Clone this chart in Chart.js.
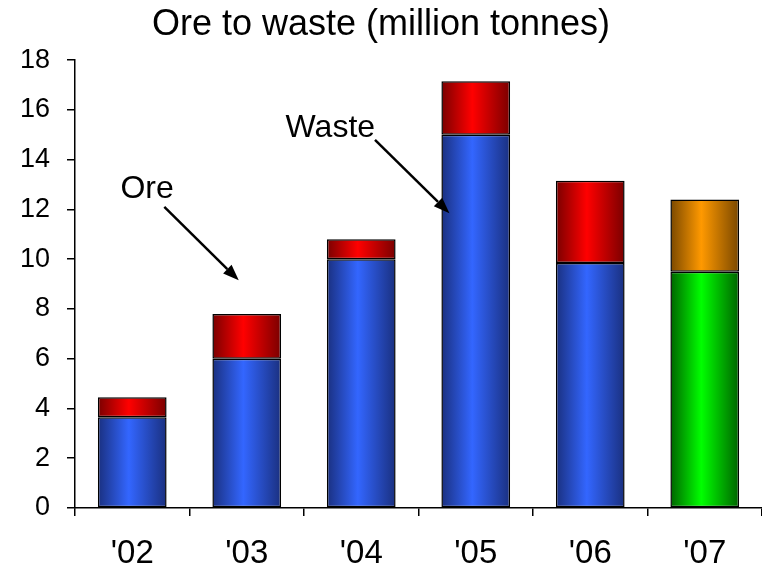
<!DOCTYPE html>
<html>
<head>
<meta charset="utf-8">
<script src="https://cdn.jsdelivr.net/npm/chart.js"></script>
<style>
  html, body { margin: 0; padding: 0; background: #fff; }
  #wrap { width: 762px; height: 571px; position: relative; }
</style>
</head>
<body>
<div id="wrap"><canvas id="oreChart"></canvas></div>
<script>
// data
const years = ["'02", "'03", "'04", "'05", "'06", "'07"];
const waste = [3.65, 6.0, 10.0, 15.0, 9.85, 9.5];
const ore = [0.8, 1.8, 0.8, 2.15, 3.3, 2.9];
const yTicks = [0, 2, 4, 6, 8, 10, 12, 14, 16, 18];

// annotation positions in data units (category index, value)
const notes = [
  { text: 'Ore', at: [0.13, 12.8], from: [0.28, 12.1], to: [0.93, 9.15] },
  { text: 'Waste', at: [1.73, 15.25], from: [2.12, 14.8], to: [2.77, 11.85] }
];

const FONT = "'Liberation Sans', Arial, sans-serif";
Chart.defaults.font.family = FONT;
Chart.defaults.color = '#000';

// [edge, centre] colours; the last year is drawn in other colours
const wastePal = [['#1a3080', '#3366ff'], ['#006400', '#00ff00']];
const orePal = [['#7a0000', '#ff0000'], ['#7a4800', '#ff9900']];

function shade(pal) {
  return function (c) {
    const chart = c.chart;
    const p = pal[c.dataIndex === 5 ? 1 : 0];
    const xs = chart.scales.x;
    if (!chart.chartArea || !xs) return p[1];
    const cx = xs.getPixelForValue(c.dataIndex);
    const w = (xs.width / years.length) * 0.6;
    const g = chart.ctx.createLinearGradient(cx - w / 2, 0, cx + w / 2, 0);
    g.addColorStop(0, p[0]);
    g.addColorStop(0.45, p[1]);
    g.addColorStop(1, p[0]);
    return g;
  };
}

const arrows = {
  id: 'arrows',
  afterDatasetsDraw(chart) {
    const { ctx, scales: { x, y } } = chart;
    const px = v => x.getPixelForValue(v[0]);
    const py = v => y.getPixelForValue(v[1]);
    ctx.save();
    ctx.fillStyle = '#000';
    ctx.strokeStyle = '#000';
    ctx.font = '32px ' + FONT;
    ctx.textAlign = 'center';
    ctx.textBaseline = 'middle';
    notes.forEach(n => {
      ctx.fillText(n.text, px(n.at), py(n.at));
      const x0 = px(n.from), y0 = py(n.from), x1 = px(n.to), y1 = py(n.to);
      const a = Math.atan2(y1 - y0, x1 - x0);
      const len = 16, half = 6;
      const bx = x1 - len * Math.cos(a), by = y1 - len * Math.sin(a);
      ctx.lineWidth = 2.5;
      ctx.beginPath();
      ctx.moveTo(x0, y0);
      ctx.lineTo(bx, by);
      ctx.stroke();
      ctx.beginPath();
      ctx.moveTo(x1, y1);
      ctx.lineTo(bx + half * Math.sin(a), by - half * Math.cos(a));
      ctx.lineTo(bx - half * Math.sin(a), by + half * Math.cos(a));
      ctx.closePath();
      ctx.fill();
    });
    ctx.restore();
  }
};

new Chart(document.getElementById('oreChart'), {
  type: 'bar',
  data: {
    labels: years,
    datasets: [
      { label: 'Waste', data: waste, backgroundColor: shade(wastePal) },
      { label: 'Ore', data: ore, backgroundColor: shade(orePal) }
    ]
  },
  options: {
    responsive: true,
    maintainAspectRatio: false,
    animation: false,
    layout: { padding: 0 },
    datasets: {
      bar: {
        barPercentage: 0.6,
        categoryPercentage: 1,
        borderColor: '#000',
        borderWidth: 1.5,
        borderSkipped: false
      }
    },
    plugins: {
      legend: { display: false },
      tooltip: { enabled: false },
      title: {
        display: true,
        text: 'Ore to waste (million tonnes)',
        font: { size: 36, weight: 'normal' },
        color: '#000',
        padding: { top: 3, bottom: 14 }
      }
    },
    scales: {
      x: {
        stacked: true,
        border: { color: '#000', width: 1.5 },
        grid: { drawOnChartArea: false, drawTicks: true, tickLength: 8, color: '#000', lineWidth: 1.5, offset: true },
        ticks: { font: { size: 33 }, padding: 18, maxRotation: 0 },
        afterFit(s) { s.height = 63; }
      },
      y: {
        stacked: true,
        min: 0,
        max: 18,
        afterBuildTicks(s) { s.ticks = yTicks.map(v => ({ value: v })); },
        border: { color: '#000', width: 1.5 },
        grid: { drawOnChartArea: false, drawTicks: true, tickLength: 8, color: '#000', lineWidth: 1.5 },
        ticks: { font: { size: 27 }, padding: 17 },
        afterFit(s) { s.width = 75; }
      }
    }
  },
  plugins: [arrows]
});
</script>
</body>
</html>
